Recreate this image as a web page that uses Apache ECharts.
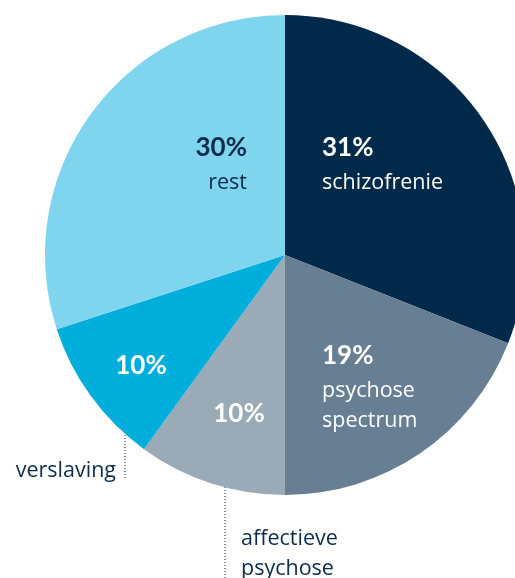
<!DOCTYPE html>
<html><head><meta charset="utf-8">
<script src="https://cdn.jsdelivr.net/npm/echarts@6/dist/echarts.min.js"></script>
<style>html,body{margin:0;padding:0;background:#fff}#c{width:515px;height:578px}</style>
</head><body><div id="c"></div>
<script>
var categories = ['schizofrenie', 'psychose\nspectrum', 'affectieve\npsychose', 'verslaving', 'rest'];
var values = [31, 19, 10, 10, 30];
var colors = ['#01294a', '#677e93', '#9aaab7', '#00aedb', '#80d5ee'];
var dark = '#0c2c4c';
var insideName = [true, true, false, false, true];
var textColor = ['#ffffff', '#ffffff', '#ffffff', '#ffffff', dark];

var labelPos = [
  {x: 322, y: 128, align: 'left'},
  {x: 322, y: 336, align: 'left'},
  {x: 239, y: 394, align: 'center'},
  {x: 141, y: 346, align: 'center'},
  {x: 247, y: 128, align: 'right'}
];
var outsidePos = {
  2: {x: 241, y: 524, align: 'left', line: [[225, 445], [225, 578]]},
  3: {x: 116, y: 456, align: 'right', line: [[125, 396], [125, 480]]}
};
var nameFont = {fontFamily: 'Open Sans', fontSize: 21.5, lineHeight: 30};

var chart = echarts.init(document.getElementById('c'));
var mainData = categories.map(function (c, i) {
  return {
    name: c, value: values[i],
    itemStyle: {color: colors[i]},
    label: {
      formatter: insideName[i] ? '{p|' + values[i] + '%}\n{n|' + c.split('\n').join('}\n{n|') + '}' : '{p|' + values[i] + '%}',
      rich: {
        p: {fontFamily: 'Lato', fontWeight: 'bold', fontSize: 26, lineHeight: 40, color: textColor[i], align: labelPos[i].align},
        n: Object.assign({color: textColor[i], align: labelPos[i].align}, nameFont)
      }
    }
  };
});
var outData = categories.map(function (c, i) {
  return {
    name: c, value: values[i],
    itemStyle: {color: 'rgba(0,0,0,0)'},
    label: {show: !!outsidePos[i]},
    labelLine: {show: !!outsidePos[i]}
  };
});

chart.setOption({
  animation: false,
  series: [{
    type: 'pie', center: [285, 255], radius: 240, startAngle: 90, clockwise: true,
    silent: true,
    label: {show: true, position: 'inside', overflow: 'none'},
    labelLine: {show: false},
    data: mainData,
    labelLayout: function (p) {
      var l = labelPos[p.dataIndex];
      return {x: l.x, y: l.y, align: l.align, verticalAlign: 'top'};
    }
  }, {
    type: 'pie', center: [285, 255], radius: 240, startAngle: 90, clockwise: true,
    silent: true,
    label: {
      show: true, position: 'outside', overflow: 'none', width: 200,
      formatter: '{n|{b}}',
      rich: {n: Object.assign({color: dark}, nameFont)}
    },
    labelLine: {show: true, lineStyle: {type: [1, 2], color: dark, width: 1}},
    data: outData,
    labelLayout: function (p) {
      var o = outsidePos[p.dataIndex];
      if (!o) return {};
      return {x: o.x, y: o.y, align: o.align, verticalAlign: 'top', labelLinePoints: o.line};
    }
  }]
});
</script></body></html>
